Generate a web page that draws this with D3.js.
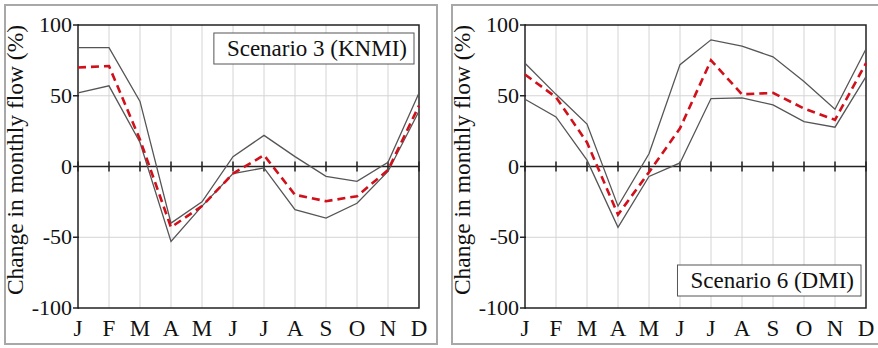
<!DOCTYPE html>
<html>
<head>
<meta charset="utf-8">
<script src="https://cdn.jsdelivr.net/npm/d3@7"></script>
<style>
  body { margin: 0; background: #fff; }
</style>
</head>
<body>
<svg id="chart" width="878" height="348"></svg>
<script>
// month labels and y ticks
const months = ["J", "F", "M", "A", "M", "J", "J", "A", "S", "O", "N", "D"];
const yTicks = [100, 50, 0, -50, -100];
const yGrid = [50, -50];

// Scenario 3 (KNMI), change in monthly flow (%)
const knmiUpper = [84, 84, 46, -40, -25, 7, 22, 7, -7, -10.5, 3, 52];
const knmiMean = [70, 71, 19, -43, -28, -5, 8, -20, -24.5, -21, -2.5, 43];
const knmiLower = [52, 57, 17, -53, -28, -5, -1, -30.5, -36.5, -26, -3.5, 39];

// Scenario 6 (DMI)
const dmiUpper = [73, 51, 30, -28, 9, 72, 89.5, 85, 77.5, 60, 40.5, 83];
const dmiMean = [65, 49, 17, -34, -4, 27, 75, 51, 52, 41, 33, 73];
const dmiLower = [47.5, 35, 4.5, -43, -7, 2.5, 48, 48.5, 43.5, 31.7, 27.8, 63.5];

const panels = [
  { left: 78, legend: "Scenario 3 (KNMI)", legendPos: "top", upper: knmiUpper, mean: knmiMean, lower: knmiLower },
  { left: 525, legend: "Scenario 6 (DMI)", legendPos: "bottom", upper: dmiUpper, mean: dmiMean, lower: dmiLower }
];

const serif = '"Liberation Serif", serif';
const plotTop = 25, plotW = 341, plotH = 283;
const svg = d3.select("#chart");

const x = d3.scalePoint().domain(d3.range(12)).range([0, plotW]).padding(0);
const y = d3.scaleLinear().domain([-100, 100]).range([plotH, 0]);

const line = d3.line()
  .x((d, i) => x(i))
  .y((d) => y(d));

panels.forEach((p) => {
  // outer frame
  svg.append("rect")
    .attr("x", p.left - 73)
    .attr("y", 5)
    .attr("width", 432)
    .attr("height", 339)
    .attr("fill", "none")
    .attr("stroke", "#a8a8a8")
    .attr("stroke-width", 2);

  const g = svg.append("g").attr("transform", `translate(${p.left},${plotTop})`);

  // grid
  g.selectAll(".vgrid")
    .data(d3.range(1, 11))
    .join("line")
    .attr("x1", (d) => x(d))
    .attr("x2", (d) => x(d))
    .attr("y1", 0)
    .attr("y2", plotH)
    .attr("stroke", "#d4d4d4")
    .attr("stroke-width", 1);

  g.selectAll(".hgrid")
    .data(yGrid)
    .join("line")
    .attr("x1", 0)
    .attr("x2", plotW)
    .attr("y1", (d) => y(d))
    .attr("y2", (d) => y(d))
    .attr("stroke", "#d4d4d4")
    .attr("stroke-width", 1);

  // zero line with month ticks
  g.append("line")
    .attr("x1", 0)
    .attr("x2", plotW)
    .attr("y1", y(0))
    .attr("y2", y(0))
    .attr("stroke", "#222")
    .attr("stroke-width", 1.5);

  g.selectAll(".xtick")
    .data(d3.range(12))
    .join("line")
    .attr("x1", (d) => x(d))
    .attr("x2", (d) => x(d))
    .attr("y1", y(0) - 5)
    .attr("y2", y(0) + 5)
    .attr("stroke", "#222")
    .attr("stroke-width", 1.5);

  // plot box
  g.append("rect")
    .attr("width", plotW)
    .attr("height", plotH)
    .attr("fill", "none")
    .attr("stroke", "#222")
    .attr("stroke-width", 1.5);

  // y axis ticks + labels
  g.selectAll(".ytick")
    .data(yTicks)
    .join("line")
    .attr("x1", -5)
    .attr("x2", 1)
    .attr("y1", (d) => y(d))
    .attr("y2", (d) => y(d))
    .attr("stroke", "#222")
    .attr("stroke-width", 1.5);

  g.selectAll(".ylab")
    .data(yTicks)
    .join("text")
    .attr("x", -6)
    .attr("y", (d) => y(d) + 7)
    .attr("text-anchor", "end")
    .style("font-family", serif)
    .style("font-size", "22px")
    .attr("fill", "#111")
    .text((d) => d);

  // month labels
  g.selectAll(".mlab")
    .data(months)
    .join("text")
    .attr("x", (d, i) => x(i))
    .attr("y", plotH + 28)
    .attr("text-anchor", "middle")
    .style("font-family", serif)
    .style("font-size", "23px")
    .attr("fill", "#111")
    .text((d) => d);

  // y title
  svg.append("text")
    .attr("transform", `translate(${p.left - 55},160) rotate(-90)`)
    .attr("text-anchor", "middle")
    .style("font-family", serif)
    .style("font-size", "23.5px")
    .attr("fill", "#111")
    .text("Change in monthly flow (%)");

  // bounds and mean
  [p.upper, p.lower].forEach((s) => {
    g.append("path")
      .datum(s)
      .attr("fill", "none")
      .attr("stroke", "#555")
      .attr("stroke-width", 1.3)
      .attr("d", line);
  });

  g.append("path")
    .datum(p.mean)
    .attr("fill", "none")
    .attr("stroke", "#d0101a")
    .attr("stroke-width", 2.6)
    .attr("stroke-dasharray", "8,5")
    .attr("d", line);

  // legend box
  const lg = g.append("g");
  const lt = lg.append("text")
    .style("font-family", serif)
    .style("font-size", "23px")
    .attr("fill", "#111")
    .attr("text-anchor", "end")
    .text(p.legend);
  const tw = lt.node().getComputedTextLength();
  const boxR = plotW - 5, boxH = 31;
  const boxY = p.legendPos === "top" ? 8 : plotH - 43;
  lg.insert("rect", "text")
    .attr("x", boxR - tw - 20)
    .attr("y", boxY)
    .attr("width", tw + 20)
    .attr("height", boxH)
    .attr("fill", "#fff")
    .attr("stroke", "#555")
    .attr("stroke-width", 1);
  lt.attr("x", boxR - 7).attr("y", boxY + 23);
});
</script>
</body>
</html>
